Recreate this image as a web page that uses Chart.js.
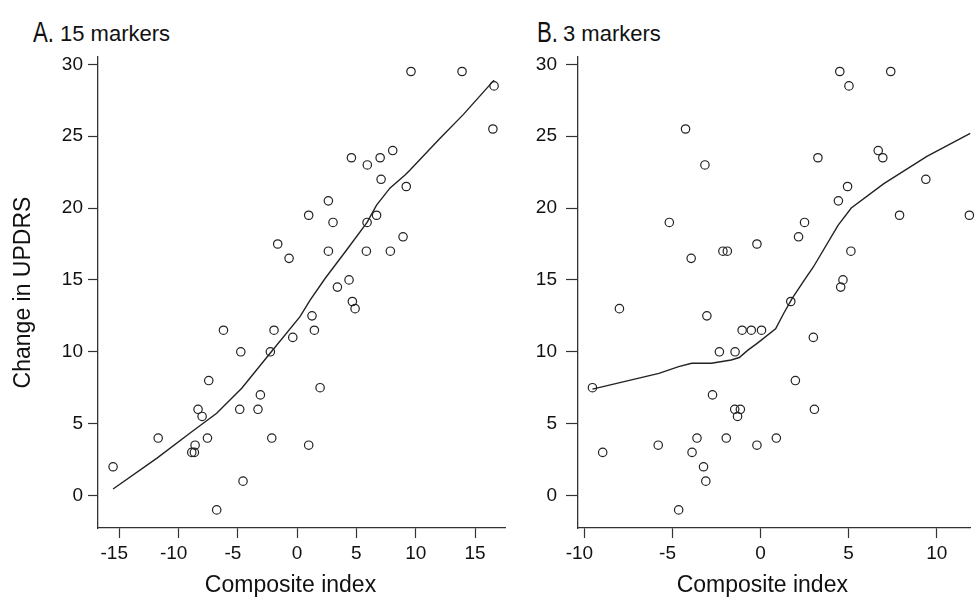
<!DOCTYPE html>
<html><head><meta charset="utf-8">
<script src="https://cdn.jsdelivr.net/npm/chart.js@4.4.1/dist/chart.umd.min.js"></script>
<style>
html,body{margin:0;padding:0;background:#fff;overflow:hidden;width:976px;height:599px;}
#wrap{position:relative;width:976px;height:599px;overflow:hidden;}
canvas{position:absolute;top:0;}
.hd{position:absolute;white-space:nowrap;color:#111;font-family:"Liberation Sans",Arial,sans-serif;line-height:27px;transform-origin:0 0;}
.hd.l{font-size:30px;transform:scaleX(0.74);top:18px;}
.hd.t{font-size:22px;top:20px;}
</style></head>
<body><div id="wrap">
<div class="hd l" style="left:33px">A.</div><div class="hd t" style="left:60px">15 markers</div>
<div class="hd l" style="left:537px">B.</div><div class="hd t" style="left:563px">3 markers</div>
<canvas id="cA" width="520" height="599" style="left:0px"></canvas>
<canvas id="cB" width="456" height="599" style="left:520px"></canvas>
</div>
<script>
// ---- data ----
const yTicks = [0, 5, 10, 15, 20, 25, 30];
const xTicksA = [-15, -10, -5, 0, 5, 10, 15];
const xTicksB = [-10, -5, 0, 5, 10];
const xTitle = 'Composite index';
const yTitle = 'Change in UPDRS';

// Panel A: composite index (15 markers) vs change in UPDRS
const compositeA = [-15.5, -11.7, -8.87, -8.65, -8.59, -8.34, -8.0, -7.55, -7.44, -6.77,
  -6.2, -4.83, -4.74, -4.55, -3.29, -3.09, -2.25, -2.13, -1.94, -1.63,
  -0.67, -0.36, 0.98, 0.98, 1.26, 1.46, 1.94, 2.64, 2.64, 3.03,
  3.4, 4.38, 4.58, 4.66, 4.89, 5.84, 5.9, 5.92, 6.7, 7.0,
  7.08, 7.86, 8.06, 8.93, 9.2, 9.6, 13.9, 16.5, 16.6];
const updrsA = [2, 4, 3, 3, 3.5, 6, 5.5, 4, 8, -1,
  11.5, 6, 10, 1, 6, 7, 10, 4, 11.5, 17.5,
  16.5, 11, 19.5, 3.5, 12.5, 11.5, 7.5, 20.5, 17, 19,
  14.5, 15, 23.5, 13.5, 13, 17, 19, 23, 19.5, 23.5,
  22, 17, 24, 18, 21.5, 29.5, 29.5, 25.5, 28.5];
const lowessAx = [-15.5, -11.8, -8.87, -6.77, -4.66, -2.27, 0.25, 1.1, 2.36, 4.19, 5.9, 6.7, 7.84, 9.1, 9.52, 12.05, 14.0, 16.6];
const lowessAy = [0.45, 2.6, 4.44, 5.72, 7.46, 9.9, 12.44, 13.6, 15.1, 17.1, 19.0, 20.2, 21.4, 22.3, 22.65, 24.86, 26.5, 28.9];

// Panel B: composite index (3 markers) vs change in UPDRS
const compositeB = [-9.53, -8.95, -8.0, -5.8, -5.17, -4.64, -4.25, -3.93, -3.88, -3.6,
  -3.23, -3.15, -3.1, -3.04, -2.72, -2.33, -2.13, -1.94, -1.88, -1.46,
  -1.44, -1.3, -1.14, -1.04, -0.52, -0.2, -0.2, 0.06, 0.9, 1.72,
  1.98, 2.16, 2.5, 3.0, 3.06, 3.26, 4.42, 4.5, 4.55, 4.68,
  4.94, 5.02, 5.13, 6.68, 6.94, 7.39, 7.89, 9.38, 11.85];
const updrsB = [7.5, 3, 13, 3.5, 19, -1, 25.5, 16.5, 3, 4,
  2, 23, 1, 12.5, 7, 10, 17, 4, 17, 6,
  10, 5.5, 6, 11.5, 11.5, 17.5, 3.5, 11.5, 4, 13.5,
  8, 18, 19, 11, 6, 23.5, 20.5, 29.5, 14.5, 15,
  21.5, 28.5, 17, 24, 23.5, 29.5, 19.5, 22, 19.5];
const lowessBx = [-9.53, -5.76, -4.64, -3.9, -2.78, -1.66, -1.2, -0.73, -0.17, 0.86, 1.33, 1.79, 2.44, 3.0, 4.4, 5.15, 7.0, 9.44, 11.9];
const lowessBy = [7.4, 8.5, 8.97, 9.2, 9.2, 9.43, 9.6, 10.1, 10.6, 11.6, 12.7, 13.7, 14.9, 15.9, 18.8, 20.0, 21.7, 23.6, 25.2];

// ---- drawing ----
const FONT = "'Liberation Sans', Arial, Helvetica, sans-serif";
Chart.defaults.font.family = FONT;
Chart.defaults.color = '#111';
const AXIS = '#333';

function pts(xs, ys) { return xs.map((x, i) => ({x: x, y: ys[i]})); }

// x-axis title drawn slightly left of the plot centre, as in the original figure
const xTitlePlugin = {
  id: 'xTitlePlugin',
  afterDraw(chart, args, opts) {
    const ctx = chart.ctx, a = chart.chartArea;
    ctx.save();
    ctx.font = '23px ' + FONT;
    ctx.fillStyle = '#111';
    ctx.textAlign = 'center';
    ctx.textBaseline = 'middle';
    ctx.fillText(opts.text, (a.left + a.right) / 2 + opts.shift, chart.height - 13.5);
    ctx.restore();
  }
};

function makeChart(id, cfg) {
  return new Chart(document.getElementById(id), {
    data: {
      datasets: [
        { type: 'scatter', data: pts(cfg.xs, cfg.ys), pointStyle: 'circle', pointRadius: 4.2,
          pointBorderWidth: 1.2, borderColor: '#222', backgroundColor: 'rgba(0,0,0,0)',
          pointHoverRadius: 4.2, clip: false, order: 2 },
        { type: 'line', data: pts(cfg.lx, cfg.ly), borderColor: '#222', borderWidth: 1.4,
          pointRadius: 0, tension: 0, fill: false, clip: false, order: 1 }
      ]
    },
    plugins: [xTitlePlugin],
    options: {
      responsive: false, animation: false, devicePixelRatio: 1,
      layout: { padding: { left: 0, top: 57, right: cfg.padRight, bottom: 0 } },
      plugins: { legend: { display: false }, tooltip: { enabled: false },
                 xTitlePlugin: { text: xTitle, shift: cfg.titleShift } },
      scales: {
        x: {
          type: 'linear', position: 'bottom', min: cfg.xmin, max: cfg.xmax,
          afterBuildTicks: s => { s.ticks = cfg.xTicks.map(v => ({value: v})); },
          afterFit: s => { s.height = 71; },
          grid: { drawOnChartArea: false, drawTicks: true, tickLength: 10, tickColor: AXIS, tickWidth: 1.2 },
          border: { display: true, color: AXIS, width: 1.3 },
          ticks: { font: { size: 19 }, padding: 4, maxRotation: 0, autoSkip: false,
                   callback: v => (v < 0 ? String(v) + '\u2002' : String(v)) },
          title: { display: false }
        },
        y: {
          type: 'linear', position: 'left', min: -2.26, max: 30.51,
          afterBuildTicks: s => { s.ticks = yTicks.map(v => ({value: v})); },
          afterFit: s => { s.width = cfg.yWidth; },
          grid: { drawOnChartArea: false, drawTicks: true, tickLength: cfg.yTickLen, tickColor: AXIS, tickWidth: 1.2 },
          border: { display: true, color: AXIS, width: 1.3 },
          ticks: { font: { size: 19 }, padding: cfg.yPad, autoSkip: false, callback: v => String(v) },
          title: { display: cfg.showYTitle, text: yTitle, font: { size: 23 }, padding: { top: 10 } }
        }
      }
    }
  });
}

makeChart('cA', { xs: compositeA, ys: updrsA, lx: lowessAx, ly: lowessAy, xTicks: xTicksA,
  xmin: -16.77, xmax: 17.52, yWidth: 98, showYTitle: true, padRight: 15,
  yTickLen: 10, yPad: 5, titleShift: -11 });
makeChart('cB', { xs: compositeB, ys: updrsB, lx: lowessBx, ly: lowessBy, xTicks: xTicksB,
  xmin: -10.35, xmax: 11.92, yWidth: 58, showYTitle: false, padRight: 0,
  yTickLen: 12, yPad: 9, titleShift: -12 });
</script>
</body></html>
